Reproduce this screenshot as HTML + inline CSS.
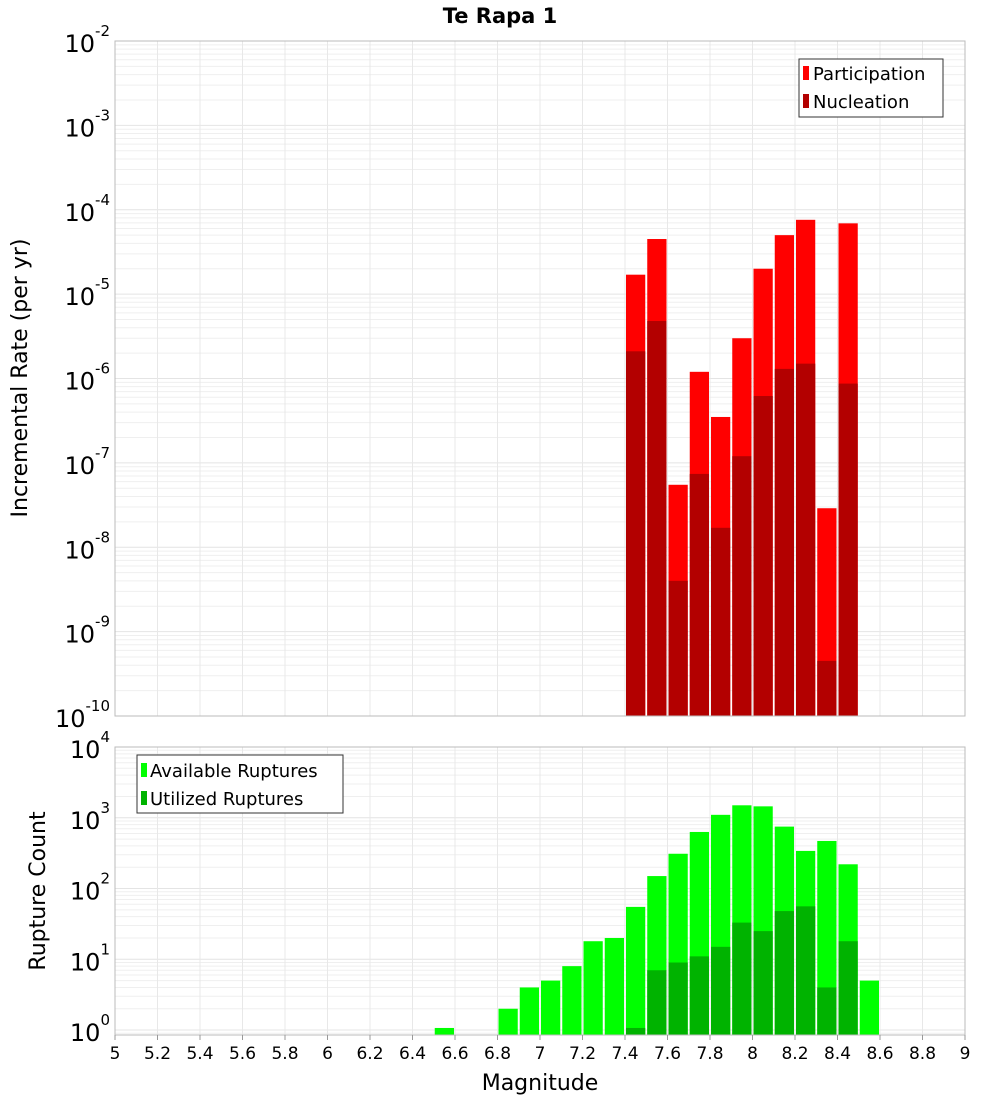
<!DOCTYPE html>
<html><head><meta charset="utf-8"><style>
body{margin:0;background:#fff}
svg{display:block;font-family:"DejaVu Sans","Liberation Sans",sans-serif}
</style></head><body>
<svg id="c" width="1000" height="1100" xmlns="http://www.w3.org/2000/svg">
<text x="500" y="23" text-anchor="middle" font-size="21" font-weight="bold">Te Rapa 1</text>
<text transform="translate(27,378) rotate(-90)" text-anchor="middle" font-size="22">Incremental Rate (per yr)</text>
<text transform="translate(45,891) rotate(-90)" text-anchor="middle" font-size="22">Rupture Count</text>
<text x="540" y="1090" text-anchor="middle" font-size="22">Magnitude</text>
<g id="top"></g><g id="bot"></g>
<g>
<rect x="799" y="59" width="144" height="58" fill="#fff" stroke="#333"/>
<rect x="803" y="66" width="6" height="14" fill="#ff0000"/><text x="813" y="80" font-size="18">Participation</text>
<rect x="803" y="94" width="6" height="14" fill="#b30000"/><text x="813" y="108" font-size="18">Nucleation</text>
</g>
<g>
<rect x="137" y="755" width="206" height="58" fill="#fff" stroke="#333"/>
<rect x="141" y="763" width="6" height="14" fill="#00ff00"/><text x="150" y="777" font-size="18">Available Ruptures</text>
<rect x="141" y="791" width="6" height="14" fill="#00b300"/><text x="150" y="805" font-size="18">Utilized Ruptures</text>
</g>
</svg>
<script>
const topMags=[7.45,7.55,7.65,7.75,7.85,7.95,8.05,8.15,8.25,8.35,8.45];
const participation=[1.7e-5,4.5e-5,5.5e-8,1.2e-6,3.5e-7,3e-6,2e-5,5e-5,7.6e-5,2.9e-8,6.9e-5];
const nucleation=[2.1e-6,4.8e-6,4e-9,7.4e-8,1.7e-8,1.2e-7,6.2e-7,1.3e-6,1.5e-6,4.5e-10,8.7e-7];
const availMags=[6.55,6.85,6.95,7.05,7.15,7.25,7.35,7.45,7.55,7.65,7.75,7.85,7.95,8.05,8.15,8.25,8.35,8.45,8.55];
const available=[1.07,2,4,5,8,18,20,55,150,310,630,1100,1500,1450,750,340,470,220,5];
const utilMags=[7.45,7.55,7.65,7.75,7.85,7.95,8.05,8.15,8.25,8.35,8.45];
const utilized=[1.07,7,9,11,15,33,25,48,56,4,18];
const xTicks=[5,5.2,5.4,5.6,5.8,6,6.2,6.4,6.6,6.8,7,7.2,7.4,7.6,7.8,8,8.2,8.4,8.6,8.8,9];
const topExps=[-2,-3,-4,-5,-6,-7,-8,-9,-10];
const botExps=[4,3,2,1,0];
const NS='http://www.w3.org/2000/svg';
const X0=115,X1=965;
const xs=m=>X0+(m-5)/4*(X1-X0);
function mk(p,t,a){const e=document.createElementNS(NS,t);for(const k in a)e.setAttribute(k,a[k]);p.appendChild(e);return e;}
function panel(g,y0,y1,yTop,yBot,name){
  const ys=v=>y0+(yTop-Math.log10(v))/(yTop-yBot)*(y1-y0);
  mk(g,'rect',{x:X0,y:y0,width:X1-X0,height:y1-y0,fill:'#fff'});
  for(let d=Math.floor(yBot);d<yTop;d++)for(let k=1;k<10;k++){const v=k*Math.pow(10,d);const y=ys(v);if(y<y0||y>y1)continue;
    const l=mk(g,'line',{x1:X0,x2:X1,y1:y,y2:y,stroke:k==1?'#e4e4e4':'#efefef','stroke-width':1});
    }
  xTicks.forEach(t=>{const x=xs(t);const l=mk(g,'line',{x1:x,x2:x,y1:y0,y2:y1,stroke:'#e8e8e8'});
    });
  return ys;
}
function bars(g,mags,vals,ys,y1,color,name){
  mags.forEach((m,i)=>{const xa=xs(m-0.05)+1,xb=xs(m+0.05)-1;const y=ys(vals[i]);
    const r=mk(g,'rect',{x:xa,y:y,width:xb-xa,height:y1-y,fill:color});
    });
}
function yLabels(g,exps,ys,name){
  exps.forEach(e=>{const y=ys(Math.pow(10,e));const t=mk(g,'text',{x:110,y:y+11,'text-anchor':'end','font-size':24});
    
    const b=mk(t,'tspan',{});b.textContent='10';const s=mk(t,'tspan',{dy:-16,'font-size':15});s.textContent=String(e);});
}
const gt=document.getElementById('top'),gb=document.getElementById('bot');
const ysT=panel(gt,41,716,-2,-10,'top');
bars(gt,topMags,participation,ysT,716,'#ff0000','participation');
bars(gt,topMags,nucleation,ysT,716,'#b30000','nucleation');
mk(gt,'rect',{x:X0,y:41,width:X1-X0,height:675,fill:'none',stroke:'#bbb'});
yLabels(gt,topExps,ysT,'top');
const botBottom=-0.07;
const ysB=panel(gb,747,1035,4,botBottom,'bottom');
bars(gb,availMags,available,ysB,1035,'#00ff00','available');
bars(gb,utilMags,utilized,ysB,1035,'#00b300','utilized');
mk(gb,'rect',{x:X0,y:747,width:X1-X0,height:288,fill:'none',stroke:'#bbb'});
yLabels(gb,botExps,ysB,'bottom');
xTicks.forEach(t=>{const x=xs(t);mk(gb,'line',{x1:x,x2:x,y1:1035,y2:1040,stroke:'#999'});
  const tx=mk(gb,'text',{x:x,y:1059,'text-anchor':'middle','font-size':17});tx.textContent=String(t);
  });
</script>
</body></html>
